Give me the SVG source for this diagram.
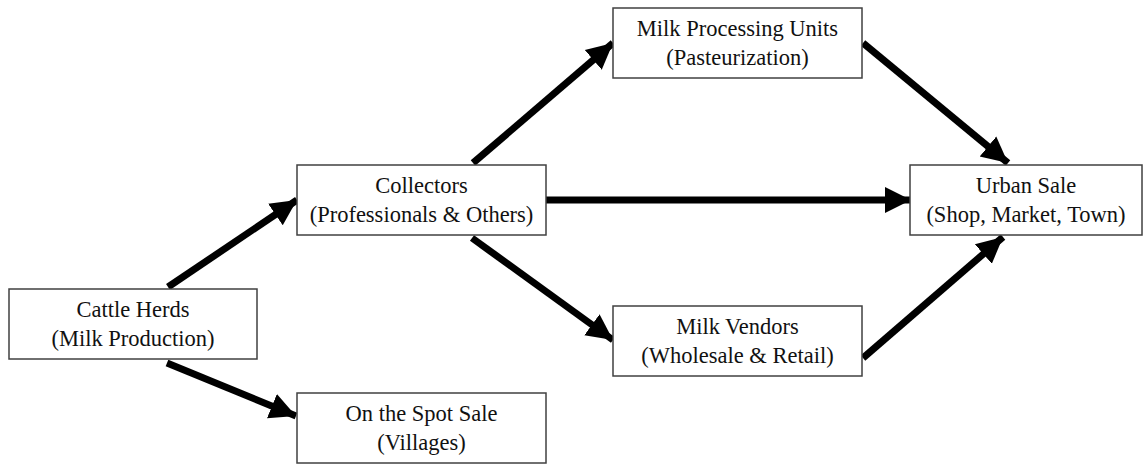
<svg xmlns="http://www.w3.org/2000/svg" width="1148" height="464" viewBox="0 0 1148 464">
<style>
.box{fill:#fff;stroke:#404040;stroke-width:1.5}
.t{font-family:'Times New Roman','Liberation Serif',serif;font-size:22.5px;fill:#111;text-anchor:middle}
.a{stroke:#000;stroke-width:7;fill:none;marker-end:url(#ah)}
</style>
<defs>
<marker id="ah" markerUnits="userSpaceOnUse" markerWidth="28" markerHeight="28" viewBox="0 0 28 28" refX="26" refY="14" orient="auto">
<polygon points="0,1 26,14 0,27" fill="#000"/>
</marker>
</defs>
<rect width="1148" height="464" fill="#fff"/>
<g id="connectors">
<line class="a" x1="168" y1="287" x2="297" y2="200"/>
<line class="a" x1="167" y1="363" x2="296" y2="416"/>
<line class="a" x1="473" y1="163" x2="613" y2="43"/>
<line class="a" x1="546" y1="200" x2="911" y2="200"/>
<line class="a" x1="472" y1="238" x2="613" y2="340"/>
<line class="a" x1="863" y1="43" x2="1008" y2="163"/>
<line class="a" x1="863" y1="358" x2="1003" y2="237"/>
</g>
<g id="cattle">
<rect class="box" x="9" y="289" width="248" height="70"/>
<text class="t" x="133" y="317">Cattle Herds</text>
<text class="t" x="133" y="346">(Milk Production)</text>
</g>
<g id="collectors">
<rect class="box" x="297" y="165" width="249" height="70"/>
<text class="t" x="421.5" y="193">Collectors</text>
<text class="t" x="421.5" y="222">(Professionals &amp; Others)</text>
</g>
<g id="processing">
<rect class="box" x="613" y="8" width="249" height="70"/>
<text class="t" x="737.5" y="36">Milk Processing Units</text>
<text class="t" x="737.5" y="65">(Pasteurization)</text>
</g>
<g id="vendors">
<rect class="box" x="613" y="306" width="249" height="70"/>
<text class="t" x="737.5" y="334">Milk Vendors</text>
<text class="t" x="737.5" y="363">(Wholesale &amp; Retail)</text>
</g>
<g id="urban">
<rect class="box" x="910" y="165" width="232" height="70"/>
<text class="t" x="1026" y="193">Urban Sale</text>
<text class="t" x="1026" y="222">(Shop, Market, Town)</text>
</g>
<g id="spot">
<rect class="box" x="297" y="393" width="249" height="70"/>
<text class="t" x="421.5" y="421">On the Spot Sale</text>
<text class="t" x="421.5" y="450">(Villages)</text>
</g>
</svg>
